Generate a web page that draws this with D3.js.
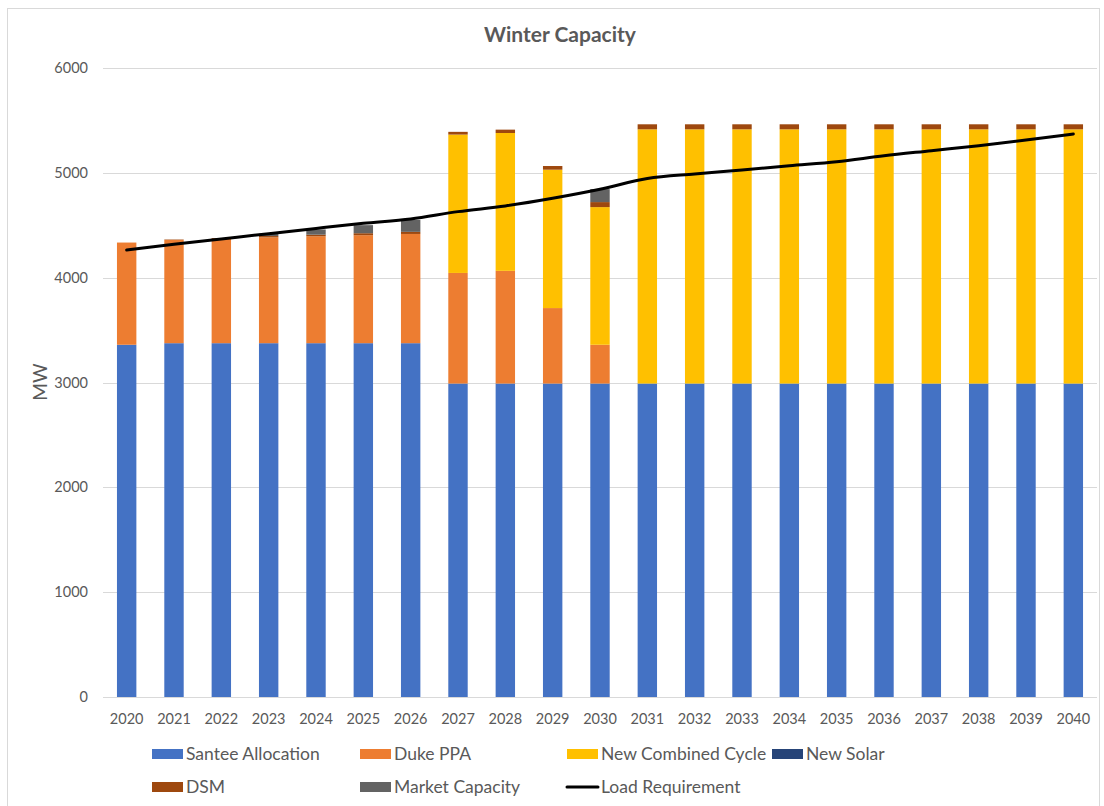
<!DOCTYPE html>
<html>
<head>
<meta charset="utf-8">
<script src="https://cdn.jsdelivr.net/npm/d3@7"></script>
<style>
  body { margin: 0; background: #fff; }
  text { font-family: Lato, "Open Sans", sans-serif; fill: #595959; }
</style>
</head>
<body>
<svg id="chart" width="1104" height="806"></svg>
<script>
const years = ["2020","2021","2022","2023","2024","2025","2026","2027","2028","2029","2030",
  "2031","2032","2033","2034","2035","2036","2037","2038","2039","2040"];

// stacked series (MW), bottom to top
const santee   = [3360,3375,3375,3375,3375,3375,3375,2990,2990,2990,2990,2990,2990,2990,2990,2990,2990,2990,2990,2990,2990];
const dukePPA  = [975,985,995,1010,1020,1030,1042,1055,1075,720,370,0,0,0,0,0,0,0,0,0,0];
const newCC    = [0,0,0,0,0,0,0,1320,1315,1320,1313,2425,2425,2425,2425,2425,2425,2425,2425,2425,2425];
const newSolar = [0,0,0,0,0,0,0,0,0,0,0,0,0,0,0,0,0,0,0,0,0];
const dsm      = [0,4,8,12,15,19,20,26,32,35,48,48,48,48,48,48,48,48,48,48,48];
const market   = [0,0,0,22,50,77,114,0,0,0,124,0,0,0,0,0,0,0,0,0,0];
const loadReq  = [4264,4318,4369,4420,4470,4518,4560,4630,4684,4757,4843,4945,4989,5027,5068,5106,5163,5211,5259,5313,5371];

const yTicks = [0,1000,2000,3000,4000,5000,6000];

const seriesNames = ["Santee Allocation","Duke PPA","New Combined Cycle","New Solar","DSM","Market Capacity"];
const seriesData = [santee, dukePPA, newCC, newSolar, dsm, market];
const colors = ["#4472C4","#ED7D31","#FFC000","#264478","#9E480E","#636363"];

const svg = d3.select("#chart");

// chart border
svg.append("rect")
  .attr("x", 7.5).attr("y", 8.5)
  .attr("width", 1092).attr("height", 820)
  .attr("fill", "none").attr("stroke", "#d9d9d9");

const margin = {left: 103, right: 1097, top: 68, bottom: 697};

const x = d3.scaleBand()
  .domain(years)
  .range([margin.left, margin.right])
  .paddingInner(0.59)
  .paddingOuter(0.295);

const y = d3.scaleLinear()
  .domain([0, 6000])
  .range([margin.bottom, margin.top]);

// gridlines
svg.append("g")
  .selectAll("line")
  .data(yTicks)
  .enter().append("line")
  .attr("x1", margin.left).attr("x2", margin.right)
  .attr("y1", d => Math.round(y(d)) + 0.5)
  .attr("y2", d => Math.round(y(d)) + 0.5)
  .attr("stroke", "#d9d9d9")
  .attr("stroke-width", 1);

// y axis labels
svg.append("g")
  .selectAll("text")
  .data(yTicks)
  .enter().append("text")
  .attr("x", 88)
  .attr("y", d => y(d))
  .attr("dy", "0.35em")
  .attr("text-anchor", "end")
  .style("font-size", "14.5px")
  .text(d => d);

// x axis labels
svg.append("g")
  .selectAll("text")
  .data(years)
  .enter().append("text")
  .attr("x", d => x(d) + x.bandwidth() / 2)
  .attr("y", 719)
  .attr("dy", "0.35em")
  .attr("text-anchor", "middle")
  .style("font-size", "14.5px")
  .text(d => d);

// stack the bars
const table = years.map(function(yr, i) {
  let row = {year: yr};
  seriesNames.forEach(function(name, j) { row[name] = seriesData[j][i]; });
  return row;
});
const stacked = d3.stack().keys(seriesNames)(table);

svg.append("g")
  .selectAll("g")
  .data(stacked)
  .enter().append("g")
  .attr("fill", (d, i) => colors[i])
  .selectAll("rect")
  .data(d => d)
  .enter().append("rect")
  .attr("x", d => x(d.data.year))
  .attr("width", x.bandwidth())
  .attr("y", d => y(d[1]))
  .attr("height", d => y(d[0]) - y(d[1]));

// load requirement line
const line = d3.line()
  .x((d, i) => x(years[i]) + x.bandwidth() / 2)
  .y(d => y(d))
  .curve(d3.curveMonotoneX);

svg.append("path")
  .datum(loadReq)
  .attr("d", line)
  .attr("fill", "none")
  .attr("stroke", "#000")
  .attr("stroke-width", 3)
  .attr("stroke-linecap", "round");

// title
svg.append("text")
  .attr("x", 560)
  .attr("y", 35)
  .attr("dy", "0.35em")
  .attr("text-anchor", "middle")
  .style("font-size", "21px")
  .style("font-weight", "bold")
  .text("Winter Capacity");

// y axis title
svg.append("text")
  .attr("transform", "translate(40,382) rotate(-90)")
  .attr("dy", "0.35em")
  .attr("text-anchor", "middle")
  .style("font-size", "19px")
  .text("MW");

// legend
const legendItems = [
  {name: "Santee Allocation", color: colors[0], x: 152, y: 754},
  {name: "Duke PPA", color: colors[1], x: 360, y: 754},
  {name: "New Combined Cycle", color: colors[2], x: 567, y: 754},
  {name: "New Solar", color: colors[3], x: 772, y: 754},
  {name: "DSM", color: colors[4], x: 152, y: 787},
  {name: "Market Capacity", color: colors[5], x: 360, y: 787},
  {name: "Load Requirement", color: "#000", x: 567, y: 787, line: true}
];

const legend = svg.append("g");
legendItems.forEach(function(item) {
  if (item.line) {
    legend.append("line")
      .attr("x1", item.x).attr("x2", item.x + 31)
      .attr("y1", item.y).attr("y2", item.y)
      .attr("stroke", item.color)
      .attr("stroke-width", 3)
      .attr("stroke-linecap", "round");
  } else {
    legend.append("rect")
      .attr("x", item.x).attr("y", item.y - 5)
      .attr("width", 31).attr("height", 10)
      .attr("fill", item.color);
  }
  legend.append("text")
    .attr("x", item.x + 34)
    .attr("y", item.y)
    .attr("dy", "0.35em")
    .style("font-size", "17.5px")
    .text(item.name);
});
</script>
</body>
</html>
